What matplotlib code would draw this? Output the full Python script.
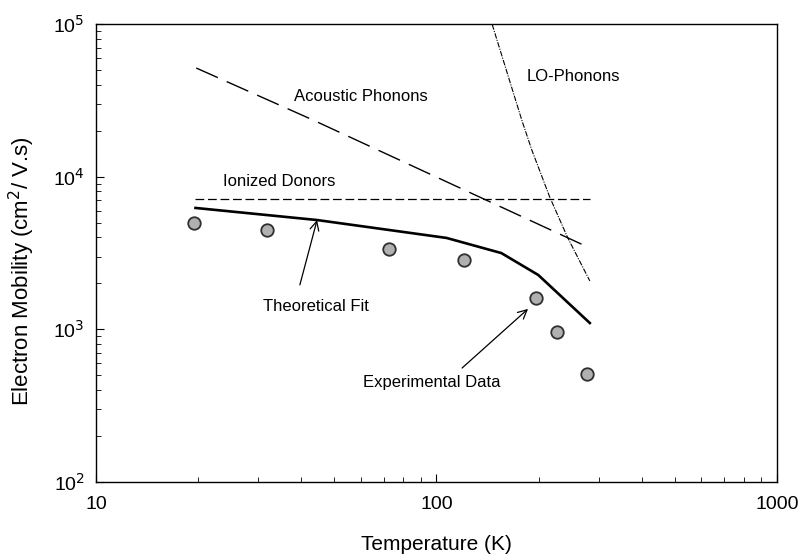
import matplotlib
matplotlib.use("Agg")
import matplotlib.pyplot as plt
import numpy as np

plt.rcParams['font.family'] = ['Liberation Sans', 'DejaVu Sans']

# Experimental data
exp_T = [19.4, 31.8, 72.4, 120.5, 196, 226, 277]
exp_mu = [4980, 4480, 3360, 2850, 1610, 960, 510]

# Theoretical fit
fit_T = [19.6, 44.6, 107, 155, 199, 282]
fit_mu = [6240, 5200, 3970, 3160, 2270, 1100]

# Acoustic phonons
ac_T = [19.7, 43.4, 282]
ac_mu = [51500, 23500, 3410]

# LO phonons
lo_T = [140, 145.6, 178, 190.5, 215, 243, 282]
lo_mu = [130000, 100000, 23500, 14960, 7360, 3970, 2075]

# Ionized donors
ion_T = [19.6, 282]
ion_mu = [7150, 7150]

fig = plt.figure(figsize=(7.99, 5.56), dpi=100)
ax = fig.add_axes([0.1201, 0.1331, 0.8524, 0.8237])
ax.set_xscale('log')
ax.set_yscale('log')
ax.set_xlim(10, 1000)
ax.set_ylim(100, 100000)

ax.plot(fit_T, fit_mu, color='black', lw=1.9)
ax.plot(ac_T, ac_mu, color='black', lw=1.0, dashes=(17, 7))
ax.plot(lo_T, lo_mu, color='black', lw=0.8, dashes=(5, 1.2, 1, 1.2))
ax.plot(ion_T, ion_mu, color='black', lw=0.9, dashes=(7, 3))
ax.plot(exp_T, exp_mu, 'o', ms=9, mfc='#b0b0b0', mec='#303030', mew=1.3)

fs = 12
ax.text(38.1, 33300, 'Acoustic Phonons', fontsize=fs, va='center', ha='left')
ax.text(184.5, 45000, 'LO-Phonons', fontsize=fs, va='center', ha='left')
ax.text(23.6, 9230, 'Ionized Donors', fontsize=fs, va='center', ha='left')
ax.text(30.9, 1403, 'Theoretical Fit', fontsize=fs, va='center', ha='left')
ax.text(60.8, 446, 'Experimental Data', fontsize=fs, va='center', ha='left')

ax.annotate('', xy=(44.6, 5200), xytext=(39.7, 1955),
            arrowprops=dict(arrowstyle='->', color='black', lw=0.9,
                            shrinkA=0, shrinkB=0, mutation_scale=16))
ax.annotate('', xy=(185.7, 1361), xytext=(118.9, 558),
            arrowprops=dict(arrowstyle='->', color='black', lw=0.9,
                            shrinkA=0, shrinkB=0, mutation_scale=16))

ax.tick_params(which='both', direction='in', top=False, right=False)
ax.tick_params(which='major', length=6, labelsize=14)
ax.tick_params(axis='x', which='major', pad=10)
ax.tick_params(axis='y', which='major', pad=8)
ax.tick_params(which='minor', length=3.5)
ax.set_xticks([10, 100, 1000])
ax.set_xticklabels(['10', '100', '1000'])
ax.set_yticks([100, 1000, 10000, 100000])
ax.set_yticklabels([r'10$^2$', r'10$^3$', r'10$^4$', r'10$^5$'])
for s in ax.spines.values():
    s.set_linewidth(1.0)

ax.set_xlabel('Temperature (K)', fontsize=15, labelpad=16)
ax.set_ylabel('Electron Mobility (cm$^2$/ V.s)', fontsize=16)
ax.yaxis.set_label_coords(-0.086, 0.46)

fig.savefig('out.png', dpi=100)
